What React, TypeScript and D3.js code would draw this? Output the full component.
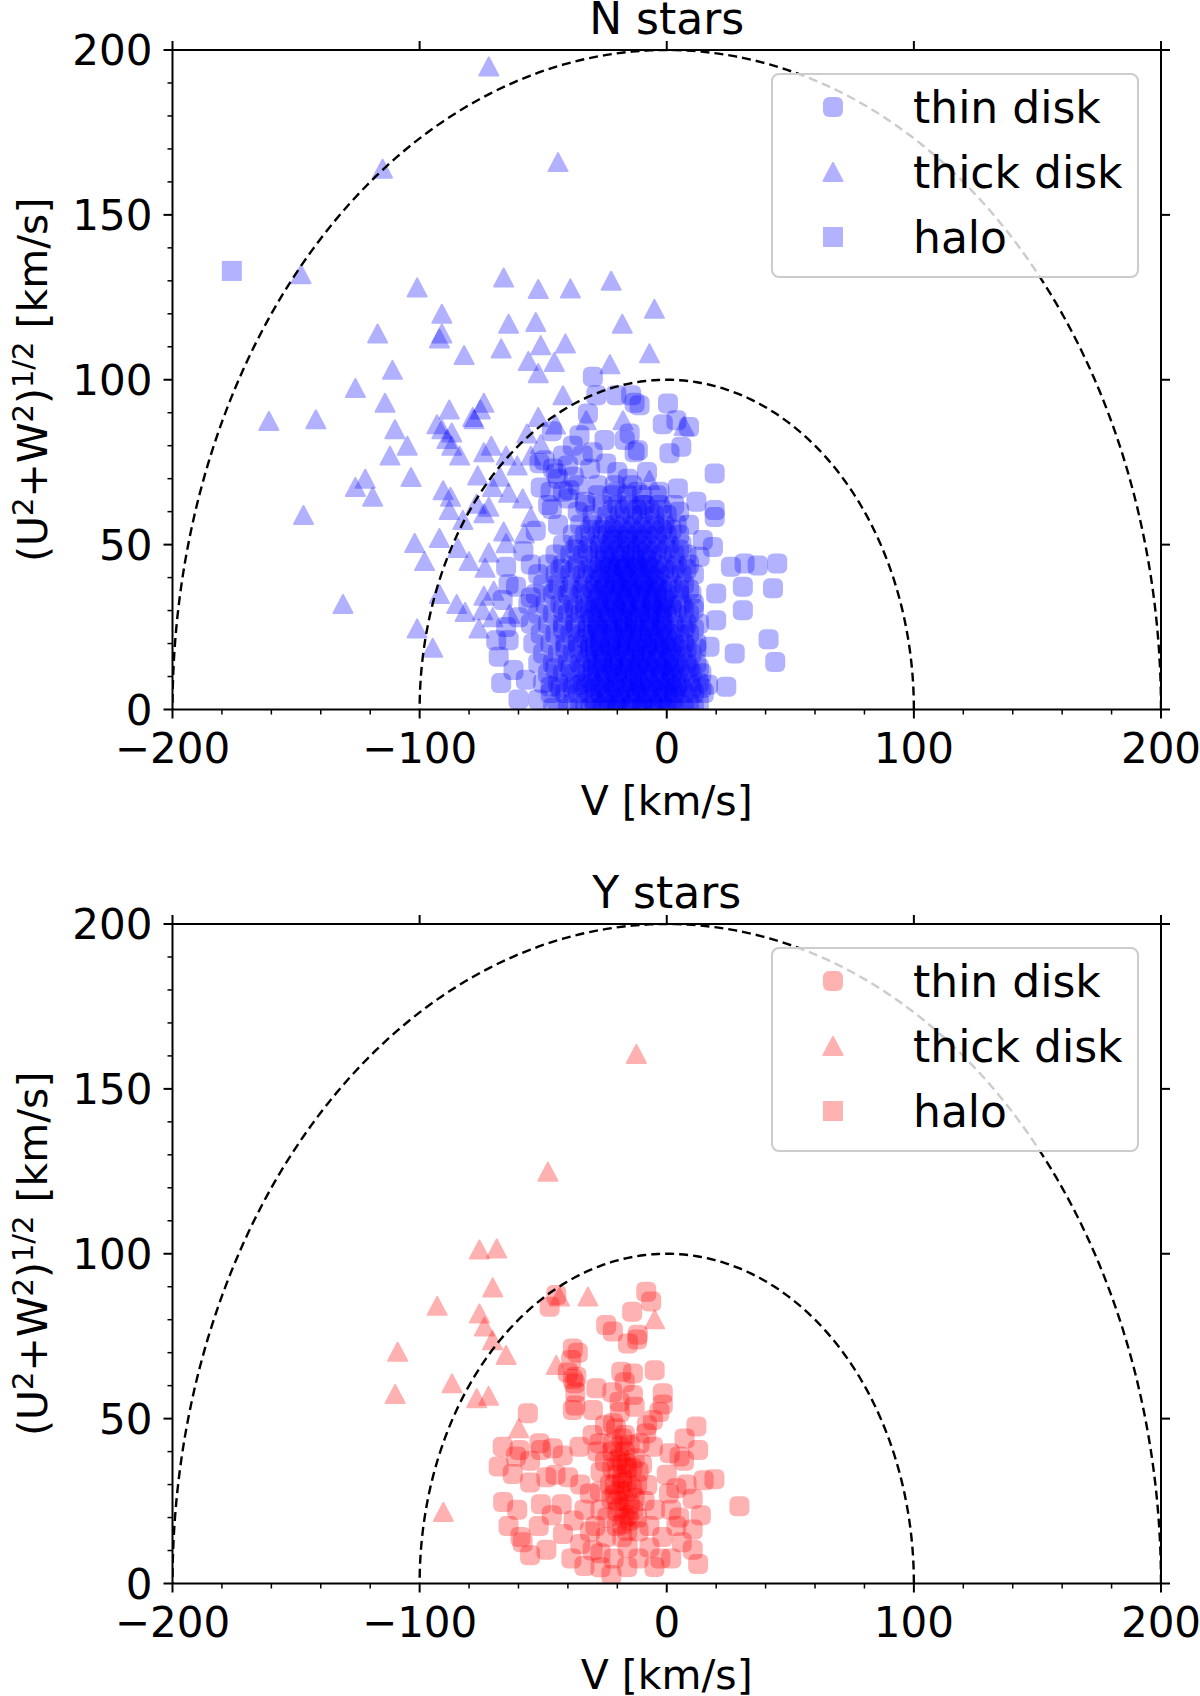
import React from 'react';
import * as d3 from 'd3';

type Pt = [number, number];
type Row = [number, number[]];

// axis ticks
const X_MAJOR = [-200, -100, 0, 100, 200];
const X_MINOR = [-180, -160, -140, -120, -80, -60, -40, -20, 20, 40, 60, 80, 120, 140, 160, 180];
const Y_MAJOR = [0, 50, 100, 150, 200];
const Y_MINOR = [10, 20, 30, 40, 60, 70, 80, 90, 110, 120, 130, 140, 160, 170, 180, 190];
const RADII = [100, 200];
const LEGEND_LABELS = ['thin disk', 'thick disk', 'halo'];

// N stars, thin disk: dense core read row by row as [W, V values]
const N_THIN_CORE: Row[] = [
  [0.5, [-46, -40, -35, -31, -27, -23, -20, -16, -12, -9, -5, -1, 3, 7, 11]],
  [1, [-26, -20, -15, -10, -5, 0]],
  [2, [-44, -38, -33, -29, -25, -21, -18, -14, -10, -6, -3, 1, 5, 9, 13]],
  [3.5, [-30, -24, -19, -13, -8, -2, 3]],
  [5, [-47, -41, -36, -31, -27, -23, -19, -15, -12, -8, -4, 0, 3, 7, 11, 15]],
  [6.5, [-43, -38, -33, -29, -25, -21, -17, -13, -10, -6, -2, 2, 6, 10, 14]],
  [7, [-27, -21, -16, -11, -6, -1, 4]],
  [8, [-50, -44, -39, -34, -30, -26, -22, -18, -14, -11, -7, -3, 1, 5, 9, 13]],
  [9.5, [-31, -25, -20, -14, -9, -3, 2]],
  [11, [-48, -42, -37, -32, -28, -24, -20, -17, -13, -9, -5, -1, 2, 6, 10, 14]],
  [12.5, [-45, -39, -34, -30, -26, -22, -18, -15, -11, -7, -3, 1, 5, 9, 13]],
  [13, [-28, -22, -17, -12, -7, -2, 3]],
  [14, [-52, -46, -40, -35, -30, -26, -22, -19, -15, -11, -8, -4, 0, 4, 8, 12]],
  [15.5, [-32, -26, -21, -15, -10, -4, 1]],
  [17, [-50, -44, -38, -33, -29, -25, -21, -17, -13, -10, -6, -2, 2, 6, 10]],
  [18.5, [-41, -36, -31, -27, -23, -20, -16, -12, -8, -4, 0, 4, 8, 12]],
  [19, [-29, -23, -18, -13, -8, -3, 2]],
  [20, [-54, -47, -41, -36, -31, -27, -23, -19, -16, -12, -8, -5, -1, 3, 7, 12]],
  [21.5, [-33, -27, -21, -16, -10, -5, 0]],
  [23, [-51, -45, -39, -34, -30, -26, -22, -18, -14, -11, -7, -3, 1, 5, 9]],
  [24.5, [-42, -37, -32, -28, -24, -20, -17, -13, -9, -5, -1, 3, 7, 11]],
  [25, [-28, -22, -17, -12, -7, -2]],
  [26, [-55, -48, -42, -37, -32, -28, -24, -20, -16, -13, -9, -5, -1, 3, 8, 13]],
  [27.5, [-30, -24, -18, -13, -7, -2]],
  [29, [-52, -46, -40, -35, -31, -27, -23, -19, -15, -11, -7, -4, 0, 4, 9]],
  [30.5, [-42, -37, -33, -29, -25, -21, -18, -14, -10, -6, -2, 2, 7, 11]],
  [31, [-27, -21, -16, -11, -6, -1]],
  [32, [-56, -49, -43, -38, -33, -29, -25, -21, -17, -14, -10, -6, -2, 2, 6, 11]],
  [33.5, [-28, -22, -17, -11, -6, -1]],
  [35, [-53, -46, -40, -35, -31, -27, -23, -19, -15, -12, -8, -4, 0, 5, 10]],
  [36.5, [-45, -39, -34, -30, -26, -22, -18, -15, -11, -7, -3, 1, 5, 9]],
  [37, [-25, -19, -14, -9, -4]],
  [38, [-50, -44, -38, -33, -29, -25, -21, -18, -14, -10, -6, -2, 2, 7]],
  [39.5, [-27, -21, -16, -10, -5]],
  [41, [-52, -45, -39, -34, -30, -26, -22, -18, -15, -11, -7, -3, 1, 6, 11]],
  [42.5, [-43, -37, -32, -28, -24, -20, -17, -13, -9, -5, -1, 3, 8]],
  [43, [-23, -17, -12, -7]],
  [44, [-48, -42, -36, -31, -27, -23, -20, -16, -12, -8, -4, 0, 4, 9]],
  [45.5, [-25, -19, -13, -8]],
  [47, [-45, -39, -34, -29, -25, -21, -17, -14, -10, -6, -2, 3, 8]],
  [48.5, [-37, -32, -27, -23, -19, -15, -12, -8, -4, 0, 5]],
  [50, [-42, -36, -31, -27, -23, -19, -15, -11, -7, -3, 1, 6]],
  [51.5, [-22, -16, -10]],
  [53, [-38, -33, -28, -24, -20, -16, -12, -8, -4, 0, 5]],
  [54.5, [-31, -26, -22, -18, -14, -10, -6, -2, 2]],
  [56, [-35, -30, -25, -21, -17, -13, -9, -5, -1, 4]],
  [59, [-30, -24, -19, -14, -10, -5, 0]],
  [60.5, [-22, -17, -12, -7, -2]],
  [62, [-33, -26, -20, -15, -9, -3, 3]],
  [65, [-28, -22, -16, -10, -4]],
  [68, [-21, -14]],
];

// N stars, thin disk: scattered stars around the core [V, W]
const N_THIN_OUTER: Pt[] = [
  [-29.9, 100.9], [-28.5, 95.3], [-20.4, 95.3], [-14.4, 95.3], [-13, 93], [-11, 92.3], [0.5, 92.8], [-1.6, 86.5],
  [3.9, 87.7], [9, 85.7], [-31.9, 89.8], [-46.5, 84.4], [-35.3, 83.2], [-25.2, 81.7], [-15, 83.7],
  [-17, 81.7], [-11.7, 78.6], [-13, 78], [5.9, 79.7], [1.1, 77.7], [-34, 77.1], [-42, 77], [-49.5, 75.6],
  [-51.5, 74.7], [-46, 73.1], [-44.7, 71.6], [-31, 73], [-24.5, 74.6], [-37.7, 70.6], [-20, 72], [-8, 72],
  [-15.7, 70], [19.4, 71.6], [-51, 67.3], [-39.4, 66.5], [-28, 68], [-12, 66], [-3, 66], [4.5, 67], [12, 63],
  [-40, 64], [-48, 62], [-46.5, 60.8], [-36, 60], [5, 60], [19.4, 60.5], [19.4, 58.4], [-44, 56], [9, 56],
  [-44, 70], [-40, 74], [-36, 68], [-42, 66], [-33, 63], [-47, 66], [-30, 78], [-38, 80], [-20, 66], [-10, 62],
  [-53, 54.2], [14.6, 51.4], [18.7, 49.3], [13.3, 46.3], [26, 43.3], [31.5, 44.3], [36.8, 43.7], [44.7, 44.3],
  [30.8, 37.2], [43, 36.8], [20, 35.2], [30.8, 30.1], [20, 27.1], [41.2, 21.3], [17.3, 19], [27.5, 17],
  [43.9, 14.4], [24.1, 6.9], [16.7, 7.5], [-65, 43.3], [-55, 44], [-58, 48], [-64, 38], [-61, 37.2],
  [-55, 34], [-66.4, 33.2], [-60, 28], [-65, 25], [-69, 21], [-64, 21], [-68, 16], [-62, 12], [-67, 8],
  [-57, 9], [-60, 3], [-52, 3], [-47, 7], [-35, 7.5],
];

// N stars, thick disk [V, W]
const N_THICK: Pt[] = [
  [-72, 195], [-115, 164], [-44, 166], [-148, 132], [-101, 128], [-66, 131], [-52, 127.5], [-39, 127.7],
  [-22.5, 130], [-5, 121.5], [-18, 117], [-91, 120], [-64, 117], [-53, 117.5], [-117, 114], [-91, 114],
  [-92, 112.5], [-67, 109.5], [-82, 107.5], [-51, 110.5], [-41, 111], [-7, 108], [-56, 105.7], [-45.5, 105.4],
  [-23, 104.7], [-52, 102], [-111, 103], [-126, 97.5], [-114, 93], [-74, 93], [-42, 95.3], [-88, 91],
  [-75.4, 91], [-161, 87.5], [-142, 88], [-78, 88], [-110, 85], [-93, 86.5], [-91, 85], [-87, 84],
  [-78.5, 88.7], [-89, 82], [-87, 80], [-105, 80], [-112, 77], [-74, 78], [-71, 80], [-83.8, 77],
  [7, 86], [-17.7, 87.7], [-32.6, 87.7], [-52, 88.7], [-56.6, 83.7], [-45, 86.4], [-51, 80.5], [-55, 77],
  [-60.5, 74], [-67.5, 70.6], [-65, 77], [-76.5, 71], [-103.5, 70.5], [-126, 67.5], [-122, 70], [-119, 64.5],
  [-90.5, 66.5], [-87.5, 64.5], [-70.5, 67.5], [-64, 65.7], [-58.3, 64], [-7, 69.6], [-147, 59], [-88, 60.5],
  [-82.5, 57.5], [-74, 59.5], [-72, 61.5], [-77, 62.4], [-55, 58.4], [-57.6, 53.4], [-66, 54], [-102, 50.5],
  [-92, 52], [-65, 50.4], [-72, 47.6], [-84.5, 49], [-98, 45], [-80, 45], [-73.5, 43], [-92, 35], [-70, 36],
  [-74, 34.5], [-131, 32], [-85, 32], [-81.6, 29.6], [-70.4, 28], [-63.6, 29], [-101, 24.6], [-94.7, 18.7],
  [-76, 24.6], [-74.5, 30.1],
];

const N_HALO: Pt[] = [[-176, 133]];

// Y stars, thin disk [V, W]
const Y_THIN: Pt[] = [
  [-47.4, 83.9], [-44.7, 87.5], [-8.3, 88.5], [-6.3, 85.5], [-14, 82.4], [-24.5, 78.4], [-21.8, 76.4],
  [-15.7, 72.8], [-11.7, 75.4], [-12, 74], [-38, 71.3], [-38.7, 67.8], [-36.6, 62.7], [-37.3, 60.7],
  [-28.5, 59.2], [-18.4, 64.2], [-13.7, 63.7], [-4.9, 64.7], [-38, 52.6], [-37, 54], [-56.2, 51.6],
  [-29.9, 52.6], [-19.1, 55.1], [-13.7, 57.2], [-13, 53.6], [-1.6, 57.7], [-1.6, 54.3], [-5.6, 49.6],
  [-21.8, 48.6], [-20.5, 47], [12, 47.6], [7.2, 44], [-8.3, 45.5], [-66.4, 41.5], [-61, 38.5], [-51.5, 42.5],
  [-46.1, 41], [-35.3, 41.5], [-27.2, 42.5], [-21.8, 42.5], [-19.1, 41.5], [-16.4, 36.4], [-11, 42.5],
  [-5.6, 41.5], [1.2, 39.5], [5.2, 38.5], [-59.6, 40.5], [-68, 35.5], [-62.3, 33.2], [-55.3, 37.2],
  [-50.9, 40.5], [-42.1, 38.8], [-39.9, 32.2], [-48.7, 32.2], [-55.3, 30.6], [-66.2, 24.7], [-60.5, 22.4],
  [-64, 17.4], [-59.2, 14.1], [-55.3, 8.6], [-48.7, 10.2], [-58.3, 12.5], [-51.8, 17.4], [-46.5, 20.7],
  [-42.5, 24], [-50.9, 24], [-38.6, 7.6], [-33.3, 5.3], [-26.8, 9.2], [-21.5, 7.6], [-15.8, 10.9],
  [-11.4, 7.6], [-7, 10.9], [-1.8, 14.1], [3.9, 17.4], [10.5, 16.4], [12.7, 5.9], [13.8, 20.7], [10.5, 25.7],
  [14.9, 31.3], [19.3, 31.6], [29.4, 23.4], [12.7, 40.5], [7, 37.2], [0.9, 27.3], [-4.8, 22.4], [-7.9, 29.9],
  [-11.4, 33.9], [-20.2, 37.2], [-26.8, 33.9], [-31.1, 27.3], [-26.8, 22.4], [-22.4, 25.7], [-18, 30.6],
  [-13.6, 22.4], [-20.2, 17.4], [-24.6, 14.1], [-31.1, 15.8], [-37.7, 19.1], [-33.3, 22.4], [-28.9, 17.4],
  [-15.8, 20.7], [-7, 17.4], [1.8, 22.4], [3.9, 28.9], [-18, 14.1], [-11.4, 15.8], [-2.6, 7.6], [1.8, 7.6],
  [10.5, 10.2], [6.1, 12.5], [-26.8, 4.9], [-22.4, 2.6], [-18, 32], [-16, 28], [-20, 25], [-14, 35],
  [-17, 20], [-19, 38], [-15, 42], [-21, 30], [-13, 26], [-17, 45], [-22, 35], [-12, 30], [-18, 18],
  [-16, 35], [-20, 22], [-15, 24], [-19, 28], [-17, 40], [-18, 36], [-16, 31], [-21, 27], [-13, 38],
  [-19, 23], [-15, 19], [-22, 40], [-17, 25], [-14, 29], [-20, 33], [-18, 44], [-23, 30], [-16, 16],
  [-12, 20], [-24, 20], [-27, 28], [-25, 37], [-10, 36], [-9, 25], [-28, 40], [-38, 62], [-37, 58],
  [-40, 64], [-36, 70], [-22, 58], [-17, 61], [-19, 52], [-25, 48], [-30, 45], [-8, 48], [-3, 52],
  [-45, 33], [-35, 30], [-30, 10], [-16, 5], [-5, 5], [5, 20], [0, 33], [8, 30], [-42, 15], [-35, 12],
];

// Y stars, thick disk [V, W]
const Y_THICK: Pt[] = [
  [-12.3, 160.6], [-48.1, 124.9], [-75.8, 101.3], [-68.8, 101.6], [-70.4, 89.8], [-92.9, 84.2],
  [-75.8, 81.9], [-73.8, 77.9], [-70.5, 73.8], [-65, 69.3], [-108.9, 70.3], [-109.9, 57.5], [-86.9, 60.7],
  [-76.9, 56.2], [-72.1, 56.9], [-43.4, 87], [-31.9, 87], [-4.9, 80.1], [-59.9, 47.1], [-44.7, 66.3],
  [-90.4, 21.7],
];

const Y_HALO: Pt[] = [];

const W = 1200;
const H = 1696;
const LEFT = 172.5;
const RIGHT = 1161;
const PANEL_TOPS = [50, 924];
const PANEL_H = 659.5;
const FONT = '"DejaVu Sans", sans-serif';
const TICK_FS = 42;
const LABEL_FS = 41;
const TITLE_FS = 44;
const LEGEND_FS = 44;
const ALPHA = 0.3;

interface PanelProps {
  idx: number;
  title: string;
  color: string;
  thin: Pt[];
  thick: Pt[];
  halo: Pt[];
}

const fmt = (v: number) => (v < 0 ? `\u2212${Math.abs(v)}` : `${v}`);

const Panel: React.FC<PanelProps> = ({ idx, title, color, thin, thick, halo }) => {
  const top = PANEL_TOPS[idx];
  const bottom = top + PANEL_H;
  const x = d3.scaleLinear().domain([-200, 200]).range([LEFT, RIGHT]);
  const y = d3.scaleLinear().domain([0, 200]).range([bottom, top]);

  const angles = d3.range(0, 181, 1).map(d => (d * Math.PI) / 180);
  const arc = (r: number) =>
    d3.line<number>()
      .x(a => x(r * Math.cos(a)))
      .y(a => y(r * Math.sin(a)))(angles) || '';

  const tri = (cx: number, cy: number) =>
    `M${cx},${cy - 9}L${cx + 9.5},${cy + 9}L${cx - 9.5},${cy + 9}Z`;

  const clipId = `plot-clip-${idx}`;
  const midY = (top + bottom) / 2;
  const legendTop = top + 24;
  const legendRows = [legendTop + 33, legendTop + 98, legendTop + 163];
  const lx = 833;

  return (
    <g>
      <defs>
        <clipPath id={clipId}>
          <rect x={LEFT} y={top} width={RIGHT - LEFT} height={PANEL_H} />
        </clipPath>
      </defs>

      <g clipPath={`url(#${clipId})`}>
        {thin.map((d, i) => (
          <rect key={`t${i}`} x={x(d[0]) - 10} y={y(d[1]) - 10} width={20} height={20} rx={6}
            fill={color} fillOpacity={ALPHA} />
        ))}
        {thick.map((d, i) => (
          <path key={`k${i}`} d={tri(x(d[0]), y(d[1]))} fill={color} stroke={color}
            strokeWidth={2} strokeLinejoin="round" opacity={ALPHA} />
        ))}
        {halo.map((d, i) => (
          <rect key={`h${i}`} x={x(d[0]) - 10} y={y(d[1]) - 10} width={20} height={20}
            fill={color} fillOpacity={ALPHA} />
        ))}
        {RADII.map(r => (
          <path key={r} d={arc(r)} fill="none" stroke="#000" strokeWidth={2.4} strokeDasharray="9,5" />
        ))}
      </g>

      {/* spines */}
      <rect x={LEFT} y={top} width={RIGHT - LEFT} height={PANEL_H} fill="none" stroke="#000" strokeWidth={2} />

      {/* ticks */}
      {X_MAJOR.map(v => (
        <g key={`xm${v}`}>
          <line x1={x(v)} x2={x(v)} y1={bottom} y2={bottom + 9} stroke="#000" strokeWidth={2} />
          <line x1={x(v)} x2={x(v)} y1={top} y2={top - 9} stroke="#000" strokeWidth={2} />
          <text x={x(v)} y={bottom + 53} textAnchor="middle" fontSize={TICK_FS} fontFamily={FONT}>{fmt(v)}</text>
        </g>
      ))}
      {X_MINOR.map(v => (
        <line key={`xn${v}`} x1={x(v)} x2={x(v)} y1={bottom} y2={bottom + 5} stroke="#000" strokeWidth={1.5} />
      ))}
      {Y_MAJOR.map(v => (
        <g key={`ym${v}`}>
          <line x1={LEFT} x2={LEFT - 9} y1={y(v)} y2={y(v)} stroke="#000" strokeWidth={2} />
          <line x1={RIGHT} x2={RIGHT + 9} y1={y(v)} y2={y(v)} stroke="#000" strokeWidth={2} />
          <text x={LEFT - 20} y={y(v) + 15.3} textAnchor="end" fontSize={TICK_FS} fontFamily={FONT}>{fmt(v)}</text>
        </g>
      ))}
      {Y_MINOR.map(v => (
        <line key={`yn${v}`} x1={LEFT} x2={LEFT - 5} y1={y(v)} y2={y(v)} stroke="#000" strokeWidth={1.5} />
      ))}

      {/* title and axis labels */}
      <text x={(LEFT + RIGHT) / 2} y={top - 16} textAnchor="middle" fontSize={TITLE_FS} fontFamily={FONT}>{title}</text>
      <text x={(LEFT + RIGHT) / 2} y={bottom + 105} textAnchor="middle" fontSize={LABEL_FS} fontFamily={FONT}>V [km/s]</text>
      <text transform={`translate(47,${midY}) rotate(-90)`} textAnchor="middle" fontSize={LABEL_FS} fontFamily={FONT}>
        (U<tspan dy={-14} fontSize={29}>2</tspan><tspan dy={14}>+W</tspan><tspan dy={-14} fontSize={29}>2</tspan>
        <tspan dy={14}>)</tspan><tspan dy={-14} fontSize={29}>1/2</tspan><tspan dy={14}> [km/s]</tspan>
      </text>

      {/* legend */}
      <rect x={772} y={legendTop} width={366} height={203} rx={7} fill="#fff" fillOpacity={0.8}
        stroke="#cccccc" strokeWidth={2} />
      <rect x={lx - 10} y={legendRows[0] - 10} width={20} height={20} rx={6} fill={color} fillOpacity={ALPHA} />
      <path d={tri(lx, legendRows[1])} fill={color} stroke={color} strokeWidth={2} strokeLinejoin="round" opacity={ALPHA} />
      <rect x={lx - 10} y={legendRows[2] - 10} width={20} height={20} fill={color} fillOpacity={ALPHA} />
      {LEGEND_LABELS.map((l, i) => (
        <text key={l} x={913} y={legendRows[i] + 16} fontSize={LEGEND_FS} fontFamily={FONT}>{l}</text>
      ))}
    </g>
  );
};

const App: React.FC = () => {
  const nThin: Pt[] = [
    ...N_THIN_CORE.flatMap(([w, vs]) => vs.map(v => [v, w] as Pt)),
    ...N_THIN_OUTER,
  ];
  return (
    <svg width={W} height={H} style={{ position: 'absolute', left: 0, top: 0, background: '#fff' }}>
      <rect width={W} height={H} fill="#fff" />
      <Panel idx={0} title="N stars" color="#0000ff" thin={nThin} thick={N_THICK} halo={N_HALO} />
      <Panel idx={1} title="Y stars" color="#ff0000" thin={Y_THIN} thick={Y_THICK} halo={Y_HALO} />
    </svg>
  );
};

export default App;
